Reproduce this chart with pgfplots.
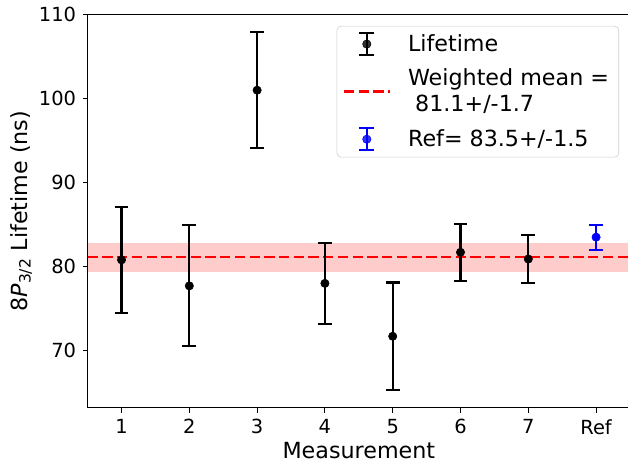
\documentclass[border=0pt]{standalone}
\usepackage{fontspec}
\setmainfont{DejaVu Sans}
\usepackage{pgfplots}
\pgfplotsset{compat=1.18}
\definecolor{bandred}{RGB}{255,204,204}
\newcommand{\ebimg}{%
  \draw[line width=1.5pt] (16.5pt,-8pt) -- (16.5pt,8pt);
  \draw[line width=1.5pt] (11.2pt,-8pt) -- (21.8pt,-8pt);
  \draw[line width=1.5pt] (11.2pt,8pt) -- (21.8pt,8pt);
  \fill (16.5pt,0pt) circle (3pt);
  \path (0pt,0pt) (43pt,0pt);}
\begin{document}
\fontsize{14}{17}\selectfont
\begin{tikzpicture}
\begin{axis}[
  scale only axis, width=390.5pt, height=283pt,
  xmin=0.5, xmax=8.5, ymin=63.2, ymax=110,
  xtick={1,2,3,4,5,6,7,8}, xticklabels={1,2,3,4,5,6,7,Ref},
  ytick={70,80,90,100,110},
  tick pos=left, tick align=outside, major tick length=3.5pt,
  tick style={line width=0.8pt, black},
  axis line style={line width=0.8pt},
  /pgf/number format/assume math mode=true,
  every tick label/.append style={font=\fontsize{14}{17}\selectfont},
  label style={font=\fontsize{16}{19.2}\selectfont},
  xlabel={Measurement},
  xlabel style={at={(axis description cs:0.5,-0.1293)}, anchor=base},
  ylabel={8\textit{P}\textsubscript{3/2} Lifetime (ns)},
  ylabel style={at={(axis description cs:-0.1117,0.5)}, anchor=base},
  legend style={at={(1,1)}, anchor=north east, xshift=-7.9pt, yshift=-8.1pt,
    draw=black!20, rounded corners=3pt, fill=white, fill opacity=0.8, text opacity=1,
    font=\fontsize{16}{19}\selectfont, cells={anchor=west, align=left},
    nodes={inner xsep=3pt, inner ysep=2pt},
    inner xsep=4pt, inner ysep=3.8pt, row sep=6.5pt},
]
\coordinate (SW) at (rel axis cs:0,0);
\addplot[draw=none, fill=bandred, forget plot] coordinates {(0.5,79.4) (8.5,79.4) (8.5,82.8) (0.5,82.8)} -- cycle;
\addplot[red, line width=2pt, dash pattern=on 7.4pt off 3.2pt, forget plot] coordinates {(0.5,81.15) (8.5,81.15)};
\addplot[only marks, black, mark=*, mark size=3pt, forget plot,
  error bars/.cd, y dir=both, y explicit,
  error bar style={line width=1.5pt, black},
  error mark options={rotate=90, line width=1.5pt, mark size=5pt, black}]
  table[x=x, y=y, y error=e] {
x y e
1 80.8 6.3
2 77.7 7.2
3 101.0 6.9
4 78.0 4.8
5 71.7 6.4
6 81.7 3.4
7 80.9 2.85
};
\addplot[only marks, blue, mark=*, mark size=3pt, forget plot,
  error bars/.cd, y dir=both, y explicit,
  error bar style={line width=1.5pt, blue},
  error mark options={rotate=90, line width=1.5pt, mark size=5pt, blue}]
  table[x=x, y=y, y error=e] {
x y e
8 83.5 1.5
};
\addlegendimage{black, legend image code/.code={\ebimg}}
\addlegendentry{Lifetime}
\addlegendimage{red, legend image code/.code={%
  \draw[red, line width=2pt, dash pattern=on 7.4pt off 3.2pt] (0pt,0pt) -- (33pt,0pt);
  \path (0pt,0pt) (43pt,0pt);}}
\addlegendentry{Weighted mean =\\\hspace*{0.32em}81.1+/-1.7}
\addlegendimage{blue, legend image code/.code={\ebimg}}
\addlegendentry{Ref= 83.5+/-1.5}
\end{axis}
\pgfresetboundingbox
\path (SW) ++(-63.1pt,-38.4pt) rectangle ++(452.16pt,331.92pt);
\end{tikzpicture}
\end{document}
